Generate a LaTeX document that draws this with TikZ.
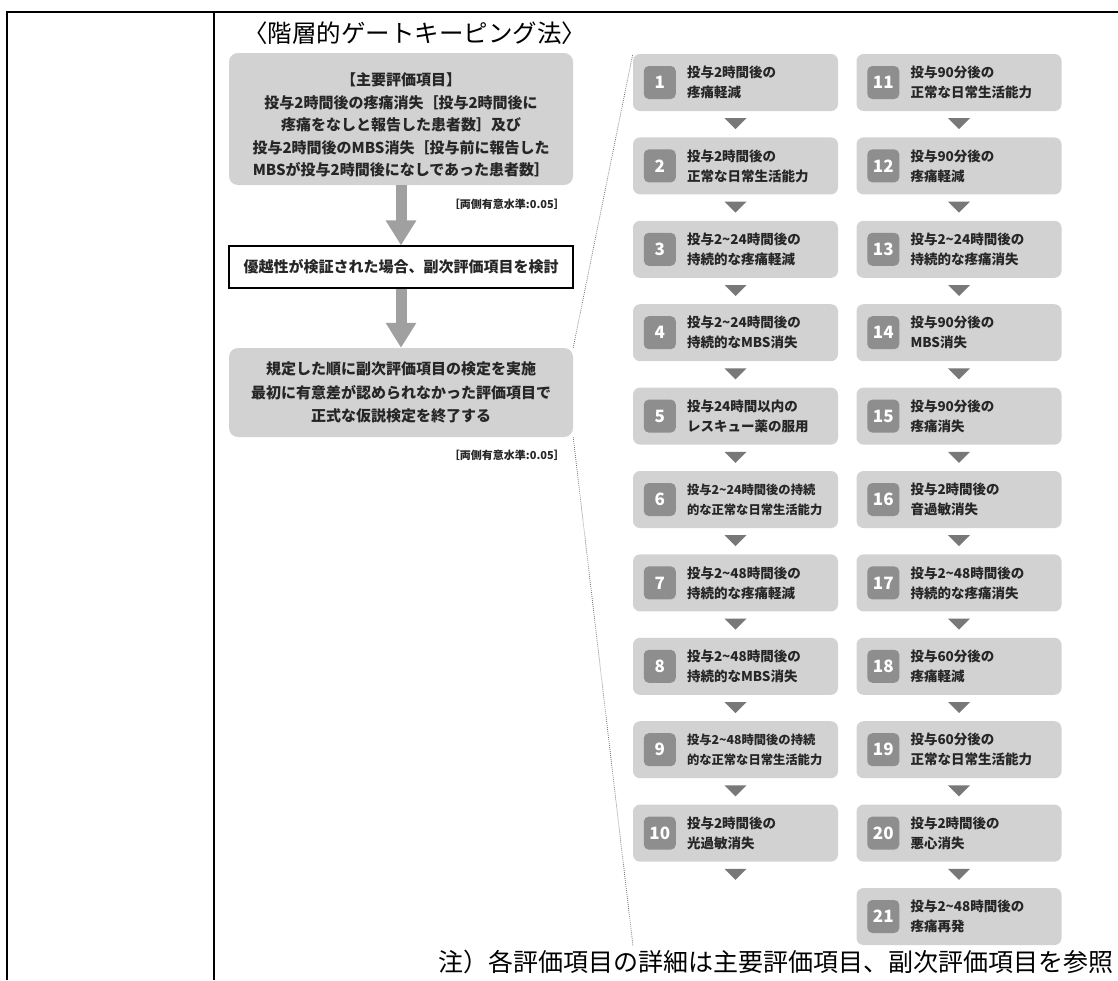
\documentclass[tikz,border=0pt]{standalone}
\usepackage{fontspec}
\newfontfamily\jp{Noto Sans CJK JP}
\usetikzlibrary{calc,arrows.meta}
\definecolor{boxgray}{HTML}{D2D2D2}
\definecolor{badgegray}{HTML}{8E8E8E}
\definecolor{arrowgray}{HTML}{A0A0A0}
\definecolor{trigray}{HTML}{787878}
\definecolor{txt}{HTML}{262626}
\newcommand\tld{\textasciitilde}
% #1 number, #2 column centre x, #3 row index, #4 extra text options, #5 text
\newcommand\ritem[5]{%
  \node[rbox] (r#1) at (#2,{82.5+#3*83.4}) {};
  \node[badge] (b#1) at ($(r#1.west)+(27,0)$) {#1};
  \node[rtext,#4] (t#1) at ($(r#1.west)+(54,0)$) {#5};
}
\newcommand\rtri[1]{%
  \fill[trigray] ($(r#1.south)+(-11,7)$) -- ++(22,0) -- ++(-11,11) -- cycle;
}
\begin{document}
\begin{tikzpicture}[x=1pt,y=-1pt,
  tableline/.style={line width=1.5pt, black},
  mainbox/.style={fill=boxgray, rounded corners=9pt, minimum width=344pt, inner sep=0pt},
  maintext/.style={font=\jp\bfseries\fontsize{15}{22.5}\selectfont, align=center, text=txt, inner sep=0pt},
  whitebox/.style={draw=black, line width=1.2pt, fill=white, minimum width=344pt, minimum height=42pt, inner sep=0pt, font=\jp\bfseries\fontsize{15}{18}\selectfont, text=txt},
  sig/.style={font=\jp\bfseries\fontsize{11}{13}\selectfont, text=txt, inner sep=0pt, anchor=east},
  bigarrow/.style={line width=11pt, arrowgray, -{Triangle[width=29pt,length=25pt]}},
  rbox/.style={fill=boxgray, rounded corners=7pt, minimum width=205pt, minimum height=57pt, inner sep=0pt},
  badge/.style={fill=badgegray, rounded corners=5pt, minimum width=32pt, minimum height=33pt, inner sep=0pt, text=white, font=\jp\bfseries\fontsize{17}{17}\selectfont},
  rtext/.style={font=\jp\bfseries\fontsize{13.5}{20}\selectfont, align=left, text=txt, inner sep=0pt, anchor=west},
  dotline/.style={black!55, line width=0.8pt, dash pattern=on 0.8pt off 1.2pt},
  bigtext/.style={inner sep=0pt, text=black},
]
\useasboundingbox (0,0) rectangle (1118,980);

% table frame
\draw[tableline] (1118,12) -- (7,12) -- (7,980);
\draw[tableline] (214,12) -- (214,980);

% title
\node[bigtext, font=\jp\fontsize{24.5}{28}\selectfont] (title) at (414.5,33) {〈階層的ゲートキーピング法〉};

% left flow
\node[mainbox, minimum height=132pt] (m1) at (401,119) {};
\node[maintext] (m1t) at (401,125) {【主要評価項目】\\投与2時間後の疼痛消失［投与2時間後に\\疼痛をなしと報告した患者数］及び\\投与2時間後のMBS消失［投与前に報告した\\MBSが投与2時間後になしであった患者数］};
\node[sig] (s1) at (565,204) {［両側有意水準:0.05］};
\node[whitebox] (m2) at (401,267) {優越性が検証された場合、副次評価項目を検討};
\node[mainbox, maintext, minimum height=89pt, font=\jp\bfseries\fontsize{15}{23.5}\selectfont] (m3) at (401,392.5) {規定した順に副次評価項目の検定を実施\\最初に有意差が認められなかった評価項目で\\正式な仮説検定を終了する};
\node[sig] (s2) at (565,455) {［両側有意水準:0.05］};
\draw[bigarrow] (m1.south) -- (m2.north);
\draw[bigarrow] (m2.south) -- (m3.north);

% right column 1
\ritem{1}{735.5}{0}{}{投与2時間後の\\疼痛軽減}
\ritem{2}{735.5}{1}{}{投与2時間後の\\正常な日常生活能力}
\ritem{3}{735.5}{2}{}{投与2\tld24時間後の\\持続的な疼痛軽減}
\ritem{4}{735.5}{3}{}{投与2\tld24時間後の\\持続的なMBS消失}
\ritem{5}{735.5}{4}{}{投与24時間以内の\\レスキュー薬の服用}
\ritem{6}{735.5}{5}{font=\jp\bfseries\fontsize{12.3}{20}\selectfont}{投与2\tld24時間後の持続\\的な正常な日常生活能力}
\ritem{7}{735.5}{6}{}{投与2\tld48時間後の\\持続的な疼痛軽減}
\ritem{8}{735.5}{7}{}{投与2\tld48時間後の\\持続的なMBS消失}
\ritem{9}{735.5}{8}{font=\jp\bfseries\fontsize{12.3}{20}\selectfont}{投与2\tld48時間後の持続\\的な正常な日常生活能力}
\ritem{10}{735.5}{9}{}{投与2時間後の\\光過敏消失}

% right column 2
\ritem{11}{959}{0}{}{投与90分後の\\正常な日常生活能力}
\ritem{12}{959}{1}{}{投与90分後の\\疼痛軽減}
\ritem{13}{959}{2}{}{投与2\tld24時間後の\\持続的な疼痛消失}
\ritem{14}{959}{3}{}{投与90分後の\\MBS消失}
\ritem{15}{959}{4}{}{投与90分後の\\疼痛消失}
\ritem{16}{959}{5}{}{投与2時間後の\\音過敏消失}
\ritem{17}{959}{6}{}{投与2\tld48時間後の\\持続的な疼痛消失}
\ritem{18}{959}{7}{}{投与60分後の\\疼痛軽減}
\ritem{19}{959}{8}{}{投与60分後の\\正常な日常生活能力}
\ritem{20}{959}{9}{}{投与2時間後の\\悪心消失}
\ritem{21}{959}{10}{}{投与2\tld48時間後の\\疼痛再発}

% triangles
\foreach \k in {1,...,10} {\rtri{\k}}
\foreach \k in {11,...,20} {\rtri{\k}}

% dotted zoom lines
\coordinate (dotend) at (633,946);
\draw[dotline] (m3.north east) -- (r1.north west);
\draw[dotline] (m3.south east) -- (dotend);

% footnote
\node[bigtext, anchor=east, font=\jp\fontsize{25}{28}\selectfont] (fn) at (1114,962) {注）各評価項目の詳細は主要評価項目、副次評価項目を参照};
\end{tikzpicture}
\end{document}
